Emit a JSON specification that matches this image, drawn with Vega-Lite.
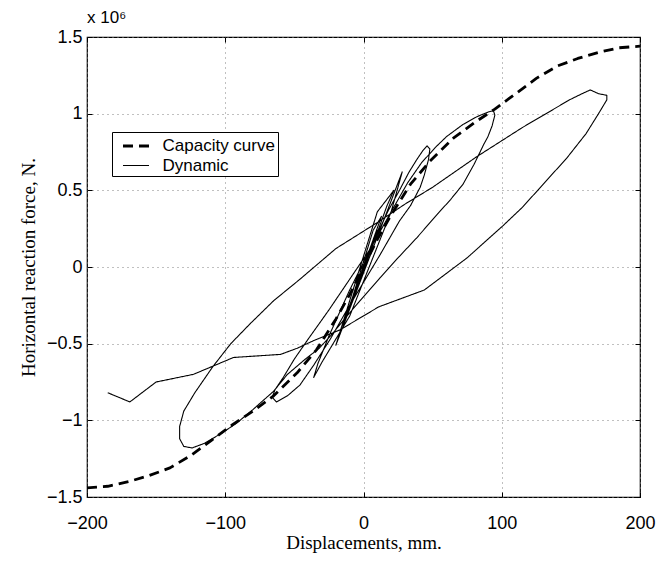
{
  "$schema": "https://vega.github.io/schema/vega-lite/v6.json",
  "width": 553,
  "height": 460,
  "autosize": {"type": "none"},
  "padding": {"left": 87, "top": 37, "right": 32, "bottom": 64},
  "background": "white",
  "title": {"text": "x 10⁶", "anchor": "start", "frame": "group", "font": "Liberation Sans", "fontSize": 17, "fontWeight": "normal", "color": "black", "offset": 1},
  "config": {
    "view": {"stroke": "black", "strokeWidth": 1.2},
    "axis": {
      "domain": false,
      "tickColor": "black",
      "tickSize": -5,
      "tickWidth": 1,
      "labelColor": "black",
      "labelFont": "Liberation Sans",
      "labelFontSize": 18,
      "labelFlush": false,
      "labelOverlap": false,
      "titleColor": "black",
      "titleFont": "Liberation Serif",
      "titleFontSize": 19,
      "titleFontWeight": "normal",
      "gridColor": "#808080",
      "gridDash": [1, 4],
      "gridWidth": 1
    },
    "legend": {
      "symbolStrokeColor": "black"
    }
  },
  "data": {
    "values": [
      {"series": "Capacity curve", "step": 1, "disp": -200, "force": -1.44},
      {"series": "Capacity curve", "step": 2, "disp": -185, "force": -1.43},
      {"series": "Capacity curve", "step": 3, "disp": -170, "force": -1.40},
      {"series": "Capacity curve", "step": 4, "disp": -155, "force": -1.36},
      {"series": "Capacity curve", "step": 5, "disp": -140, "force": -1.31},
      {"series": "Capacity curve", "step": 6, "disp": -125, "force": -1.23},
      {"series": "Capacity curve", "step": 7, "disp": -110, "force": -1.13},
      {"series": "Capacity curve", "step": 8, "disp": -95, "force": -1.03},
      {"series": "Capacity curve", "step": 9, "disp": -80, "force": -0.94},
      {"series": "Capacity curve", "step": 10, "disp": -65, "force": -0.84},
      {"series": "Capacity curve", "step": 11, "disp": -48, "force": -0.69},
      {"series": "Capacity curve", "step": 12, "disp": -34, "force": -0.54},
      {"series": "Capacity curve", "step": 13, "disp": -20, "force": -0.34},
      {"series": "Capacity curve", "step": 14, "disp": -10, "force": -0.18},
      {"series": "Capacity curve", "step": 15, "disp": 0, "force": 0},
      {"series": "Capacity curve", "step": 16, "disp": 10, "force": 0.18},
      {"series": "Capacity curve", "step": 17, "disp": 20, "force": 0.34},
      {"series": "Capacity curve", "step": 18, "disp": 34, "force": 0.54},
      {"series": "Capacity curve", "step": 19, "disp": 48, "force": 0.69},
      {"series": "Capacity curve", "step": 20, "disp": 65, "force": 0.84},
      {"series": "Capacity curve", "step": 21, "disp": 80, "force": 0.94},
      {"series": "Capacity curve", "step": 22, "disp": 95, "force": 1.03},
      {"series": "Capacity curve", "step": 23, "disp": 110, "force": 1.13},
      {"series": "Capacity curve", "step": 24, "disp": 125, "force": 1.23},
      {"series": "Capacity curve", "step": 25, "disp": 140, "force": 1.31},
      {"series": "Capacity curve", "step": 26, "disp": 155, "force": 1.36},
      {"series": "Capacity curve", "step": 27, "disp": 170, "force": 1.40},
      {"series": "Capacity curve", "step": 28, "disp": 185, "force": 1.43},
      {"series": "Capacity curve", "step": 29, "disp": 200, "force": 1.44},
      {"series": "Dynamic", "step": 1, "disp": 0, "force": 0},
      {"series": "Dynamic", "step": 2, "disp": 6, "force": 0.14},
      {"series": "Dynamic", "step": 3, "disp": -4, "force": -0.1},
      {"series": "Dynamic", "step": 4, "disp": 10, "force": 0.24},
      {"series": "Dynamic", "step": 5, "disp": -8, "force": -0.2},
      {"series": "Dynamic", "step": 6, "disp": 7, "force": 0.24},
      {"series": "Dynamic", "step": 7, "disp": 13, "force": 0.33},
      {"series": "Dynamic", "step": 8, "disp": -12, "force": -0.3},
      {"series": "Dynamic", "step": 9, "disp": -15, "force": -0.38},
      {"series": "Dynamic", "step": 10, "disp": 5, "force": 0.1},
      {"series": "Dynamic", "step": 11, "disp": 17, "force": 0.4},
      {"series": "Dynamic", "step": 12, "disp": 22, "force": 0.5},
      {"series": "Dynamic", "step": 13, "disp": 10, "force": 0.36},
      {"series": "Dynamic", "step": 14, "disp": -20, "force": -0.51},
      {"series": "Dynamic", "step": 15, "disp": 28, "force": 0.62},
      {"series": "Dynamic", "step": 16, "disp": 20, "force": 0.36},
      {"series": "Dynamic", "step": 17, "disp": -10, "force": -0.32},
      {"series": "Dynamic", "step": 18, "disp": -30, "force": -0.62},
      {"series": "Dynamic", "step": 19, "disp": -36, "force": -0.72},
      {"series": "Dynamic", "step": 20, "disp": -33, "force": -0.63},
      {"series": "Dynamic", "step": 21, "disp": -25, "force": -0.45},
      {"series": "Dynamic", "step": 22, "disp": -10, "force": -0.15},
      {"series": "Dynamic", "step": 23, "disp": 5, "force": 0.12},
      {"series": "Dynamic", "step": 24, "disp": 18, "force": 0.37},
      {"series": "Dynamic", "step": 25, "disp": 26, "force": 0.5},
      {"series": "Dynamic", "step": 26, "disp": 33, "force": 0.62},
      {"series": "Dynamic", "step": 27, "disp": 38.5, "force": 0.7},
      {"series": "Dynamic", "step": 28, "disp": 43, "force": 0.76},
      {"series": "Dynamic", "step": 29, "disp": 46, "force": 0.79},
      {"series": "Dynamic", "step": 30, "disp": 48, "force": 0.77},
      {"series": "Dynamic", "step": 31, "disp": 47, "force": 0.7},
      {"series": "Dynamic", "step": 32, "disp": 44, "force": 0.6},
      {"series": "Dynamic", "step": 33, "disp": 41, "force": 0.52},
      {"series": "Dynamic", "step": 34, "disp": 34, "force": 0.4},
      {"series": "Dynamic", "step": 35, "disp": 26, "force": 0.3},
      {"series": "Dynamic", "step": 36, "disp": 12, "force": 0.08},
      {"series": "Dynamic", "step": 37, "disp": 0, "force": -0.1},
      {"series": "Dynamic", "step": 38, "disp": -12, "force": -0.28},
      {"series": "Dynamic", "step": 39, "disp": -24, "force": -0.47},
      {"series": "Dynamic", "step": 40, "disp": -36, "force": -0.64},
      {"series": "Dynamic", "step": 41, "disp": -46, "force": -0.77},
      {"series": "Dynamic", "step": 42, "disp": -55, "force": -0.84},
      {"series": "Dynamic", "step": 43, "disp": -63, "force": -0.88},
      {"series": "Dynamic", "step": 44, "disp": -66, "force": -0.85},
      {"series": "Dynamic", "step": 45, "disp": -64, "force": -0.8},
      {"series": "Dynamic", "step": 46, "disp": -58, "force": -0.72},
      {"series": "Dynamic", "step": 47, "disp": -50, "force": -0.6},
      {"series": "Dynamic", "step": 48, "disp": -40, "force": -0.47},
      {"series": "Dynamic", "step": 49, "disp": -25, "force": -0.28},
      {"series": "Dynamic", "step": 50, "disp": -10, "force": -0.08},
      {"series": "Dynamic", "step": 51, "disp": 5, "force": 0.12},
      {"series": "Dynamic", "step": 52, "disp": 20, "force": 0.36},
      {"series": "Dynamic", "step": 53, "disp": 32, "force": 0.55},
      {"series": "Dynamic", "step": 54, "disp": 42, "force": 0.68},
      {"series": "Dynamic", "step": 55, "disp": 52, "force": 0.78},
      {"series": "Dynamic", "step": 56, "disp": 60, "force": 0.85},
      {"series": "Dynamic", "step": 57, "disp": 72, "force": 0.93},
      {"series": "Dynamic", "step": 58, "disp": 82, "force": 0.98},
      {"series": "Dynamic", "step": 59, "disp": 90, "force": 1.01},
      {"series": "Dynamic", "step": 60, "disp": 94, "force": 1.02},
      {"series": "Dynamic", "step": 61, "disp": 95, "force": 0.99},
      {"series": "Dynamic", "step": 62, "disp": 93, "force": 0.92},
      {"series": "Dynamic", "step": 63, "disp": 90, "force": 0.85},
      {"series": "Dynamic", "step": 64, "disp": 87, "force": 0.8},
      {"series": "Dynamic", "step": 65, "disp": 80, "force": 0.67},
      {"series": "Dynamic", "step": 66, "disp": 72, "force": 0.54},
      {"series": "Dynamic", "step": 67, "disp": 63, "force": 0.44},
      {"series": "Dynamic", "step": 68, "disp": 54, "force": 0.35},
      {"series": "Dynamic", "step": 69, "disp": 38.5, "force": 0.19},
      {"series": "Dynamic", "step": 70, "disp": 25, "force": 0.06},
      {"series": "Dynamic", "step": 71, "disp": 12, "force": -0.07},
      {"series": "Dynamic", "step": 72, "disp": -2.5, "force": -0.22},
      {"series": "Dynamic", "step": 73, "disp": -12, "force": -0.32},
      {"series": "Dynamic", "step": 74, "disp": -22, "force": -0.43},
      {"series": "Dynamic", "step": 75, "disp": -32, "force": -0.53},
      {"series": "Dynamic", "step": 76, "disp": -42, "force": -0.6},
      {"series": "Dynamic", "step": 77, "disp": -55, "force": -0.7},
      {"series": "Dynamic", "step": 78, "disp": -65, "force": -0.81},
      {"series": "Dynamic", "step": 79, "disp": -80, "force": -0.93},
      {"series": "Dynamic", "step": 80, "disp": -92, "force": -1.02},
      {"series": "Dynamic", "step": 81, "disp": -102, "force": -1.08},
      {"series": "Dynamic", "step": 82, "disp": -115, "force": -1.15},
      {"series": "Dynamic", "step": 83, "disp": -124, "force": -1.18},
      {"series": "Dynamic", "step": 84, "disp": -130, "force": -1.17},
      {"series": "Dynamic", "step": 85, "disp": -133, "force": -1.12},
      {"series": "Dynamic", "step": 86, "disp": -133, "force": -1.04},
      {"series": "Dynamic", "step": 87, "disp": -130, "force": -0.94},
      {"series": "Dynamic", "step": 88, "disp": -122, "force": -0.82},
      {"series": "Dynamic", "step": 89, "disp": -109, "force": -0.65},
      {"series": "Dynamic", "step": 90, "disp": -96, "force": -0.5},
      {"series": "Dynamic", "step": 91, "disp": -82, "force": -0.37},
      {"series": "Dynamic", "step": 92, "disp": -65, "force": -0.22},
      {"series": "Dynamic", "step": 93, "disp": -46, "force": -0.08},
      {"series": "Dynamic", "step": 94, "disp": -20, "force": 0.12},
      {"series": "Dynamic", "step": 95, "disp": 10, "force": 0.29},
      {"series": "Dynamic", "step": 96, "disp": 30, "force": 0.41},
      {"series": "Dynamic", "step": 97, "disp": 50, "force": 0.52},
      {"series": "Dynamic", "step": 98, "disp": 82, "force": 0.72},
      {"series": "Dynamic", "step": 99, "disp": 115, "force": 0.91},
      {"series": "Dynamic", "step": 100, "disp": 149, "force": 1.09},
      {"series": "Dynamic", "step": 101, "disp": 158, "force": 1.13},
      {"series": "Dynamic", "step": 102, "disp": 164, "force": 1.155},
      {"series": "Dynamic", "step": 103, "disp": 170, "force": 1.13},
      {"series": "Dynamic", "step": 104, "disp": 176, "force": 1.12},
      {"series": "Dynamic", "step": 105, "disp": 176, "force": 1.09},
      {"series": "Dynamic", "step": 106, "disp": 170, "force": 1.0},
      {"series": "Dynamic", "step": 107, "disp": 161, "force": 0.87},
      {"series": "Dynamic", "step": 108, "disp": 147, "force": 0.71},
      {"series": "Dynamic", "step": 109, "disp": 128, "force": 0.52},
      {"series": "Dynamic", "step": 110, "disp": 115, "force": 0.39},
      {"series": "Dynamic", "step": 111, "disp": 101, "force": 0.27},
      {"series": "Dynamic", "step": 112, "disp": 75, "force": 0.06},
      {"series": "Dynamic", "step": 113, "disp": 44, "force": -0.15},
      {"series": "Dynamic", "step": 114, "disp": 11, "force": -0.26},
      {"series": "Dynamic", "step": 115, "disp": -17, "force": -0.41},
      {"series": "Dynamic", "step": 116, "disp": -36, "force": -0.48},
      {"series": "Dynamic", "step": 117, "disp": -48, "force": -0.53},
      {"series": "Dynamic", "step": 118, "disp": -60, "force": -0.57},
      {"series": "Dynamic", "step": 119, "disp": -94, "force": -0.59},
      {"series": "Dynamic", "step": 120, "disp": -123, "force": -0.7},
      {"series": "Dynamic", "step": 121, "disp": -150, "force": -0.75},
      {"series": "Dynamic", "step": 122, "disp": -169, "force": -0.88},
      {"series": "Dynamic", "step": 123, "disp": -185, "force": -0.82}
    ]
  },
  "layer": [
    {
      "mark": {"type": "line", "color": "black", "strokeCap": "butt", "strokeJoin": "round"},
      "encoding": {
        "x": {"field": "disp", "type": "quantitative", "scale": {"domain": [-200, 200], "nice": false, "zero": false},
              "axis": {"orient": "bottom", "title": "Displacements, mm.", "values": [-200, -100, 0, 100, 200], "labelPadding": 22, "titlePadding": 1, "grid": true}},
        "y": {"field": "force", "type": "quantitative", "scale": {"domain": [-1.5, 1.5], "nice": false, "zero": false},
              "axis": {"orient": "left", "title": "Horizontal reaction force, N.", "values": [-1.5, -1, -0.5, 0, 0.5, 1, 1.5], "format": "~g", "labelPadding": 10, "titlePadding": 8, "grid": true}},
        "order": {"field": "step", "type": "quantitative"},
        "strokeDash": {"field": "series", "type": "nominal",
          "scale": {"domain": ["Capacity curve", "Dynamic"], "range": [[10, 6], [1, 0]]},
          "legend": {"title": null, "orient": "none", "legendX": 25, "legendY": 95, "fillColor": "white", "strokeColor": "black", "padding": 2.5, "symbolType": "M-1.3,0H1.3", "symbolSize": 400, "symbolOffset": 10, "labelFont": "Liberation Sans", "labelFontSize": 17, "labelColor": "black", "labelOffset": 15, "rowPadding": -1}},
        "strokeWidth": {"field": "series", "type": "nominal",
          "scale": {"domain": ["Capacity curve", "Dynamic"], "range": [2.8, 1.1]},
          "legend": {"title": null, "orient": "none", "legendX": 25, "legendY": 95, "fillColor": "white", "strokeColor": "black", "padding": 2.5, "symbolType": "M-1.3,0H1.3", "symbolSize": 400, "symbolOffset": 10, "labelFont": "Liberation Sans", "labelFontSize": 17, "labelColor": "black", "labelOffset": 15, "rowPadding": -1}}
      }
    },
    {
      "mark": {"type": "point", "opacity": 0},
      "encoding": {
        "x": {"field": "disp", "type": "quantitative",
              "axis": {"orient": "top", "title": null, "labels": false, "grid": false, "values": [-200, -100, 0, 100, 200]}},
        "y": {"field": "force", "type": "quantitative",
              "axis": {"orient": "right", "title": null, "labels": false, "grid": false, "values": [-1.5, -1, -0.5, 0, 0.5, 1, 1.5]}}
      }
    }
  ],
  "resolve": {"axis": {"x": "independent", "y": "independent"}}
}
